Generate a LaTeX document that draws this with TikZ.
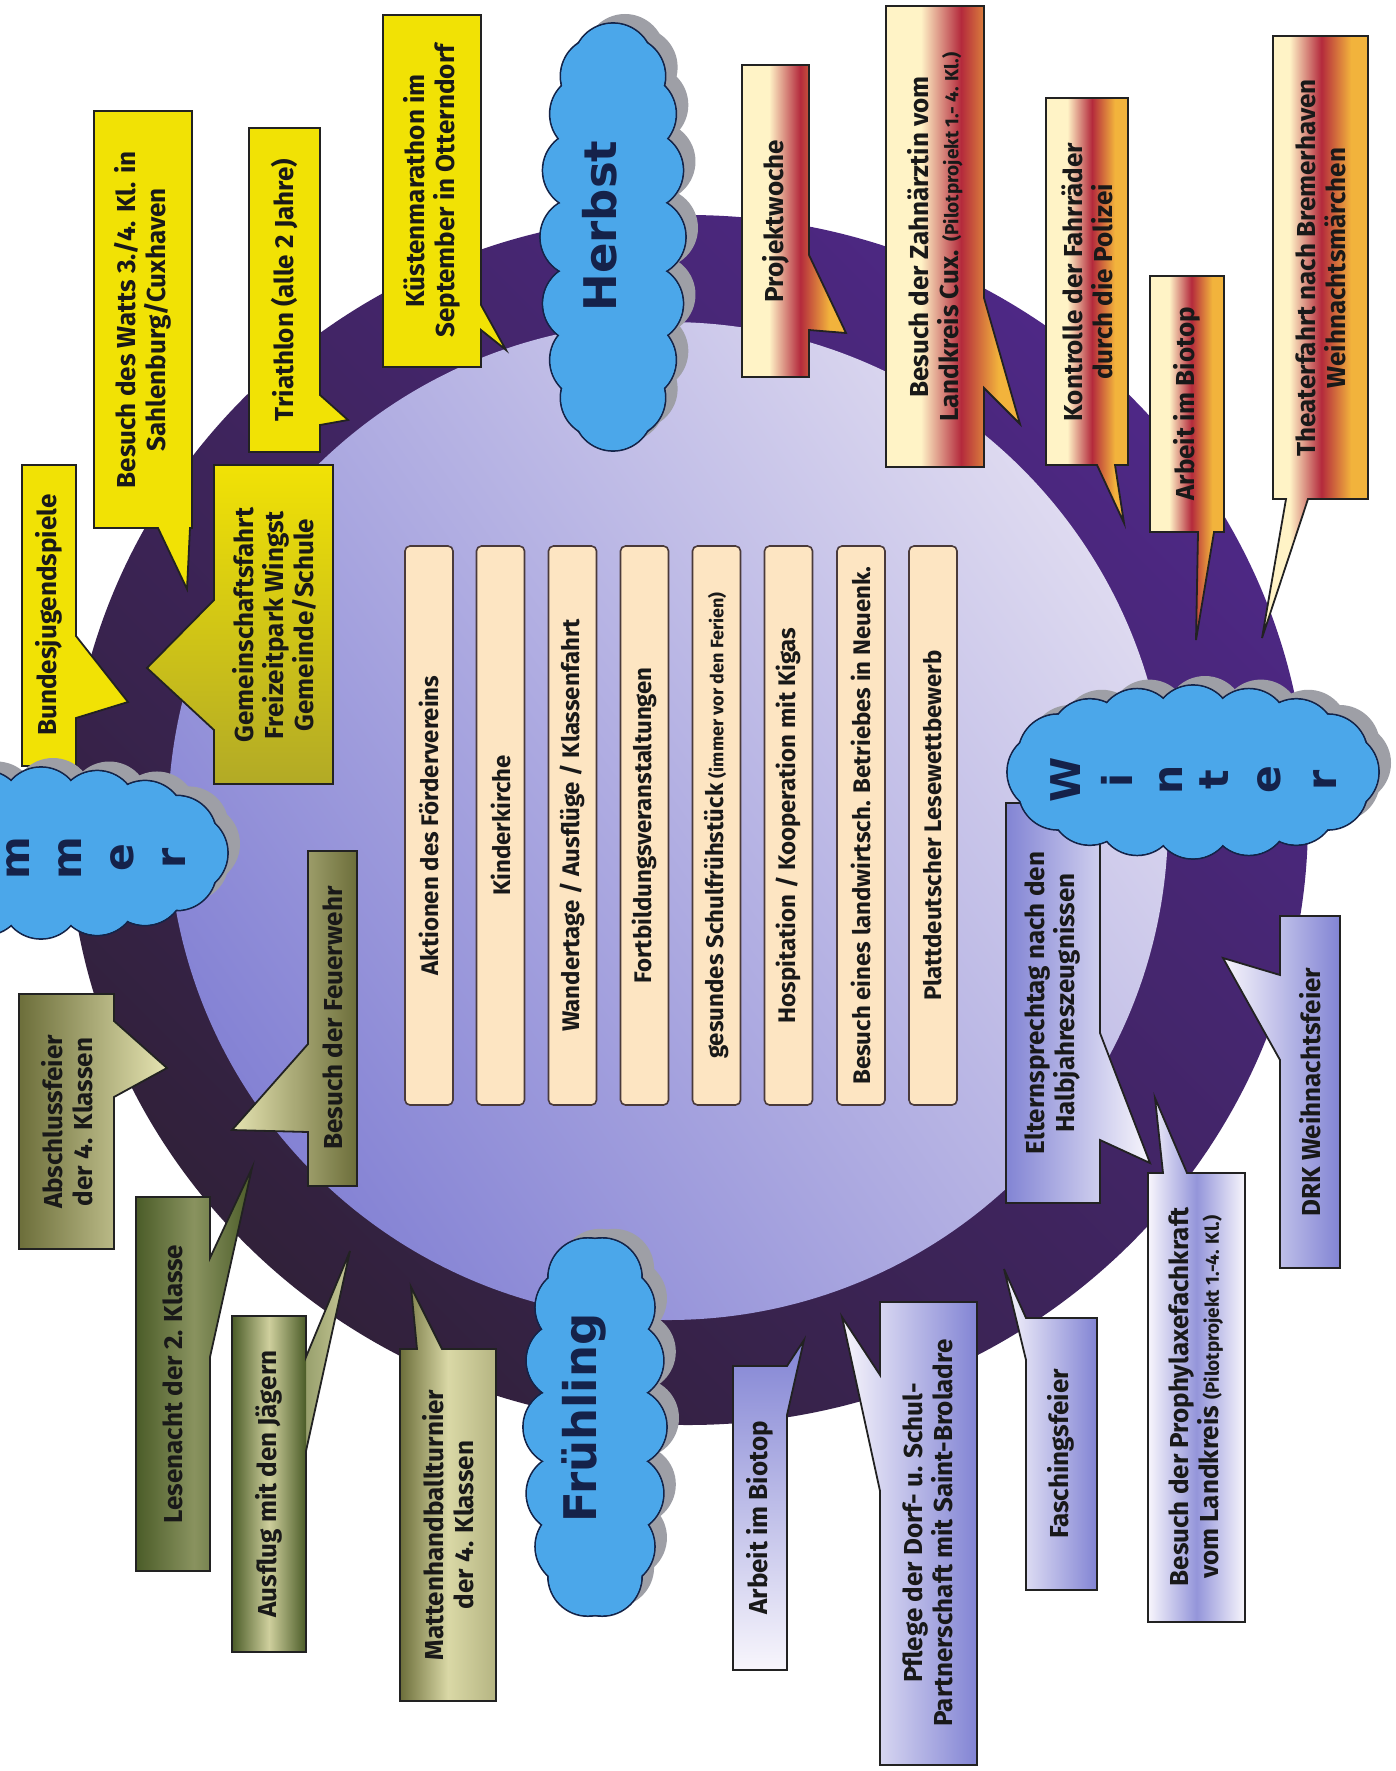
\documentclass[tikz,border=0pt]{standalone}
\usepackage{fontspec}
\setmainfont{Fira Sans}
\newfontfamily\seasonfont{DejaVu Sans}
\definecolor{ringL}{HTML}{31213A}
\definecolor{ringR}{HTML}{4E2886}
\definecolor{discD}{HTML}{8482D4}
\definecolor{discL}{HTML}{DEDAF0}
\definecolor{cfill}{HTML}{FDE5C2}
\definecolor{cline}{HTML}{4A3A3A}
\definecolor{cblue}{HTML}{4BA7EA}
\definecolor{cbline}{HTML}{142449}
\definecolor{cshadow}{HTML}{9E9FA6}
\definecolor{stext}{HTML}{15224A}
\definecolor{yel}{HTML}{F1E205}
\definecolor{yelolive}{HTML}{B2AA26}
\definecolor{hcream}{HTML}{FFF3C6}
\definecolor{hred}{HTML}{B42A3C}
\definecolor{horange}{HTML}{F2B33C}
\definecolor{peri}{HTML}{8284D4}
\definecolor{pwhite}{HTML}{F8F6FC}
\definecolor{oD}{HTML}{6C6E3A}
\definecolor{oL}{HTML}{E6E4B2}
\definecolor{gD}{HTML}{4B5C28}
\definecolor{olin}{HTML}{222222}
\pgfdeclarehorizontalshading{herbstshade}{100bp}{color(0bp)=(hcream); color(38bp)=(hcream); color(53bp)=(hred); color(67bp)=(horange); color(100bp)=(horange)}
\newcommand{\smalltxt}[1]{{\fontsize{19}{22}\selectfont #1}}
\newcommand{\smallbox}[1]{{\fontsize{18}{22}\selectfont #1}}
% puffs of a cloud: centre x, centre y, a, b, number, radius, style
\newcommand{\puffs}[7]{%
  \foreach \k in {1,...,#5}{\path[#7] ({#1+#3*cos(360*\k/#5)},{#2+#4*sin(360*\k/#5)}) circle [radius=#6];}}
% full cloud: cx, cy, a, b, n, r
\newcommand{\seasoncloud}[6]{%
  \puffs{#1+12}{#2-9}{#3}{#4}{#5}{#6}{fill=cshadow}
  \fill[cshadow] ({#1+12},{#2-9}) ellipse [x radius=#3, y radius=#4];
  \puffs{#1}{#2}{#3}{#4}{#5}{#6}{draw=cbline, line width=1.7pt, fill=cblue}
  \puffs{#1}{#2}{#3}{#4}{#5}{#6-0.9}{fill=cblue}
  \fill[cblue] (#1,#2) ellipse [x radius=#3, y radius=#4];}
\tikzset{
  callout/.style={draw=olin, line width=1.8pt, line join=miter},
  ctext/.style={rotate=90, align=center, inner sep=0pt, font=\bfseries\fontsize{26}{30}\selectfont, text=black!90},
  cbox/.style={rotate=90, minimum width=559pt, minimum height=48pt, inner sep=0pt, rounded corners=5pt, draw=cline, line width=1.6pt, fill=cfill, font=\bfseries\fontsize{24}{28}\selectfont, text=black!90},
  season/.style={rotate=90, inner sep=0pt, font=\seasonfont\bfseries\fontsize{45}{45}\selectfont, text=stext},
  letter/.style={rotate=90, inner sep=0pt, anchor=base, font=\seasonfont\bfseries\fontsize{41}{41}\selectfont, text=stext}
}
\begin{document}
\begin{tikzpicture}[x=1pt,y=-1pt]
\useasboundingbox (0,0) rectangle (1396,1771);
\clip (0,0) rectangle (1396,1771);
\fill[white] (0,0) rectangle (1396,1771);
% ring and disc
\shade[left color=ringL, right color=ringR, shading angle=135] (688,820) ellipse [x radius=620, y radius=605];
\shade[left color=discD, right color=discL, shading angle=125] (668,821) ellipse [x radius=500, y radius=499];
% centre boxes
\node[cbox] (c1) at (429,825.5) {Aktionen des Fördervereins};
\node[cbox] (c2) at (500.5,825.5) {Kinderkirche};
\node[cbox] (c3) at (572.5,825.5) {Wandertage / Ausflüge / Klassenfahrt};
\node[cbox] (c4) at (644.5,825.5) {Fortbildungsveranstaltungen};
\node[cbox] (c5) at (716.5,825.5) {gesundes Schulfrühstück \smallbox{(immer vor den Ferien)}};
\node[cbox] (c6) at (788.5,825.5) {Hospitation / Kooperation mit Kigas};
\node[cbox] (c7) at (861,825.5) {Besuch eines landwirtsch. Betriebes in Neuenk.};
\node[cbox] (c8) at (933,825.5) {Plattdeutscher Lesewettbewerb};
% yellow callouts
\filldraw[callout, fill=yel] (383,15) -- (481,15) -- (481,305) -- (506,350) -- (481,330) -- (481,367) -- (383,367) -- cycle;
\node[ctext] (kuesten) at (432,191) {Küstenmarathon im\\September in Otterndorf};
\filldraw[callout, fill=yel] (94,111) -- (192,111) -- (192,528) -- (190,528) -- (187,589) -- (158,528) -- (94,528) -- cycle;
\node[ctext] (watts) at (143,320) {Besuch des Watts 3./4. Kl. in\\Sahlenburg/Cuxhaven};
\filldraw[callout, fill=yel] (249,128) -- (320,128) -- (320,395) -- (348,420) -- (320,425) -- (320,452) -- (249,452) -- cycle;
\node[ctext] (triath) at (285,290) {Triathlon (alle 2 Jahre)};
\shade[callout, top color=yel, bottom color=yelolive] (214,465) -- (333,465) -- (333,784) -- (214,784) -- (214,730) -- (147,668) -- (214,600) -- cycle;
\node[ctext] (gemein) at (274,625) {Gemeinschaftsfahrt\\Freizeitpark Wingst\\Gemeinde/Schule};
\filldraw[callout, fill=yel] (22,465) -- (76,465) -- (76,636) -- (128,702) -- (76,718) -- (76,766) -- (22,766) -- cycle;
\node[ctext] (bundes) at (49,615) {Bundesjugendspiele};
% olive callouts
\shade[callout, left color=oD, right color=oL] (19,994) -- (114,994) -- (114,1021) -- (167,1068) -- (114,1097) -- (114,1249) -- (19,1249) -- cycle;
\node[ctext] (abschluss) at (67,1122) {Abschlussfeier\\der 4. Klassen};
\shade[callout, left color=oL, right color=oD] (308,851) -- (357,851) -- (357,1186) -- (308,1186) -- (308,1132) -- (232,1130) -- (308,1044) -- cycle;
\node[ctext] (feuer) at (333,1018) {Besuch der Feuerwehr};
\shade[callout, left color=gD, right color=gD, middle color=gD!60!oL] (136,1197) -- (210,1197) -- (210,1258) -- (252,1168) -- (210,1357) -- (210,1571) -- (136,1571) -- cycle;
\node[ctext] (lese) at (173,1384) {Lesenacht der 2. Klasse};
\shade[left color=gD, right color=oL!80!gD] (232,1316) -- (306,1316) -- (306,1357) -- (350,1251) -- (306,1451) -- (306,1652) -- (232,1652) -- cycle;
\shade[left color=gD, right color=gD, middle color=oL!85!gD] (232,1316) rectangle (306,1652);
\draw[callout] (232,1316) -- (306,1316) -- (306,1357) -- (350,1251) -- (306,1451) -- (306,1652) -- (232,1652) -- cycle;
\node[ctext] (ausflug) at (269,1484) {Ausflug mit den Jägern};
\shade[callout, left color=oD, right color=oL!60!oD, middle color=oL!90!oD] (400,1349) -- (417,1349) -- (411,1287) -- (442,1349) -- (496,1349) -- (496,1701) -- (400,1701) -- cycle;
\node[ctext] (matten) at (448,1525) {Mattenhandballturnier\\der 4. Klassen};
% red/yellow callouts
\shade[callout, shading=herbstshade] (742,65) -- (809,65) -- (809,255) -- (846,333) -- (809,330) -- (809,377) -- (742,377) -- cycle;
\node[ctext] (projekt) at (776,221) {Projektwoche};
\shade[callout, shading=herbstshade] (886,6) -- (984,6) -- (984,298) -- (1020,424) -- (984,388) -- (984,467) -- (886,467) -- cycle;
\node[ctext] (zahn) at (935,237) {Besuch der Zahnärztin vom\\Landkreis Cux. \smalltxt{(Pilotprojekt 1.- 4. Kl.)}};
\shade[callout, shading=herbstshade] (1046,98) -- (1128,98) -- (1128,465) -- (1115,465) -- (1124,523) -- (1097,465) -- (1046,465) -- cycle;
\node[ctext] (kontrolle) at (1087,282) {Kontrolle der Fahrräder\\durch die Polizei};
\shade[callout, shading=herbstshade] (1150,276) -- (1224,276) -- (1224,532) -- (1214,532) -- (1196,640) -- (1198,532) -- (1150,532) -- cycle;
\node[ctext] (biotopw) at (1187,404) {Arbeit im Biotop};
\shade[callout, shading=herbstshade] (1273,36) -- (1368,36) -- (1368,499) -- (1308,499) -- (1262,638) -- (1286,499) -- (1273,499) -- cycle;
\node[ctext] (theater) at (1321,268) {Theaterfahrt nach Bremerhaven\\Weihnachtsmärchen};
% blue callouts
\shade[callout, left color=peri, right color=pwhite] (1006,803) -- (1100,803) -- (1100,1033) -- (1150,1163) -- (1100,1140) -- (1100,1203) -- (1006,1203) -- cycle;
\node[ctext] (eltern) at (1053,1003) {Elternsprechtag nach den\\Halbjahreszeugnissen};
\shade[callout, left color=pwhite, right color=peri] (1280,916) -- (1340,916) -- (1340,1268) -- (1280,1268) -- (1280,1060) -- (1223,958) -- (1280,975) -- cycle;
\node[ctext] (drk) at (1310,1092) {DRK Weihnachtsfeier};
\shade[callout, left color=pwhite, right color=pwhite, middle color=peri!85!pwhite] (1148,1173) -- (1163,1173) -- (1155,1098) -- (1187,1173) -- (1245,1173) -- (1245,1622) -- (1148,1622) -- cycle;
\node[ctext] (prophy) at (1196,1397) {Besuch der Prophylaxefachkraft\\vom Landkreis \smalltxt{(Pilotprojekt 1.-4. Kl.)}};
\shade[callout, left color=pwhite, right color=peri] (1026,1318) -- (1097,1318) -- (1097,1590) -- (1026,1590) -- (1026,1360) -- (1004,1269) -- cycle;
\node[ctext] (fasching) at (1061,1454) {Faschingsfeier};
\shade[callout, left color=pwhite, right color=peri] (880,1302) -- (977,1302) -- (977,1765) -- (880,1765) -- (880,1491) -- (842,1317) -- (880,1375) -- cycle;
\node[ctext] (pflege) at (928,1533) {Pflege der Dorf- u. Schul-\\Partnerschaft mit Saint-Broladre};
\shade[callout, top color=peri, bottom color=pwhite] (733,1366) -- (787,1366) -- (804,1340) -- (787,1415) -- (787,1670) -- (733,1670) -- cycle;
\node[ctext] (biotopf) at (760,1518) {Arbeit im Biotop};
% clouds
\seasoncloud{613}{237}{33}{174}{16}{40}
\node[season] (herbstT) at (600,226) {Herbst};
\seasoncloud{595}{1427}{32}{153}{14}{40}
\node[season] (fruehT) at (584,1418) {Frühling};
\seasoncloud{1193}{772}{146}{47}{16}{40}
\node[letter] (w1) at (1080,780) {W};
\node[letter] (w2) at (1132,780) {i};
\node[letter] (w3) at (1182,780) {n};
\node[letter] (w4) at (1228,780) {t};
\node[letter] (w5) at (1280,780) {e};
\node[letter] (w6) at (1336,780) {r};
\seasoncloud{41}{853}{147}{46}{16}{40}
\node[letter] (s1) at (-75,858) {S};
\node[letter] (s2) at (-23,858) {o};
\node[letter] (s3) at (29,858) {m};
\node[letter] (s4) at (81,858) {m};
\node[letter] (s5) at (133,858) {e};
\node[letter] (s6) at (185,858) {r};
\end{tikzpicture}
\end{document}
